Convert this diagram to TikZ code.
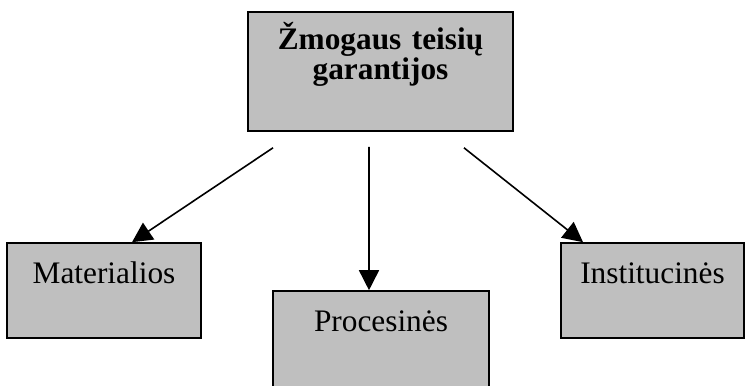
\documentclass[tikz,border=0pt]{standalone}
\usepackage{fontspec}
\setmainfont{Liberation Serif}
\usetikzlibrary{positioning, arrows.meta}

\begin{document}
\begin{tikzpicture}[
    x = 0.75pt, y = -0.75pt,
    inner sep = 0pt,
    line width = 1.2pt,
    node distance = 164.25pt,
    font = \fontsize{23.5}{20.25}\selectfont,
    text height = 30pt,
    text depth = 41.25pt,
    minimum height = 71.25pt
]
\useasboundingbox (0,0) rectangle (745,385);
\node[draw] (top) at (380.5,71.5) [fill = gray!50, minimum width = 198.75pt, text width = 198.75pt, align = center, text height = 28.5pt, text depth = 60.75pt, minimum height = 89.25pt] {\lineskiplimit=-100pt\bfseries Žmogaus teisių\\ garantijos};
\node[draw] (mat) [below of = top, xshift = -207.375pt, fill = gray!50, minimum width = 145.5pt] {Materialios};
\node[draw] (proc) [below of = top, xshift = 0.375pt, yshift = -36.75pt, fill = gray!50, minimum width = 162pt, text depth = 42.75pt, minimum height = 72.75pt] {Procesinės};
\node[draw] (inst) [below of = top, xshift = 204pt, fill = gray!50, minimum width = 137.25pt] {Institucinės};
% arrows
\path[-{Triangle[length = 15pt, width = 15pt]}]
([xshift = -80.6pt, yshift = -12pt]top.south) edge ([xshift = 21pt]mat.north)
([xshift = -8.6pt, yshift = -11.25pt]top.south) edge ([xshift = -9pt]proc.north)
([xshift = 62.6pt, yshift = -12pt]top.south) edge ([xshift = -52.1pt]inst.north);

\end{tikzpicture}
\end{document}
